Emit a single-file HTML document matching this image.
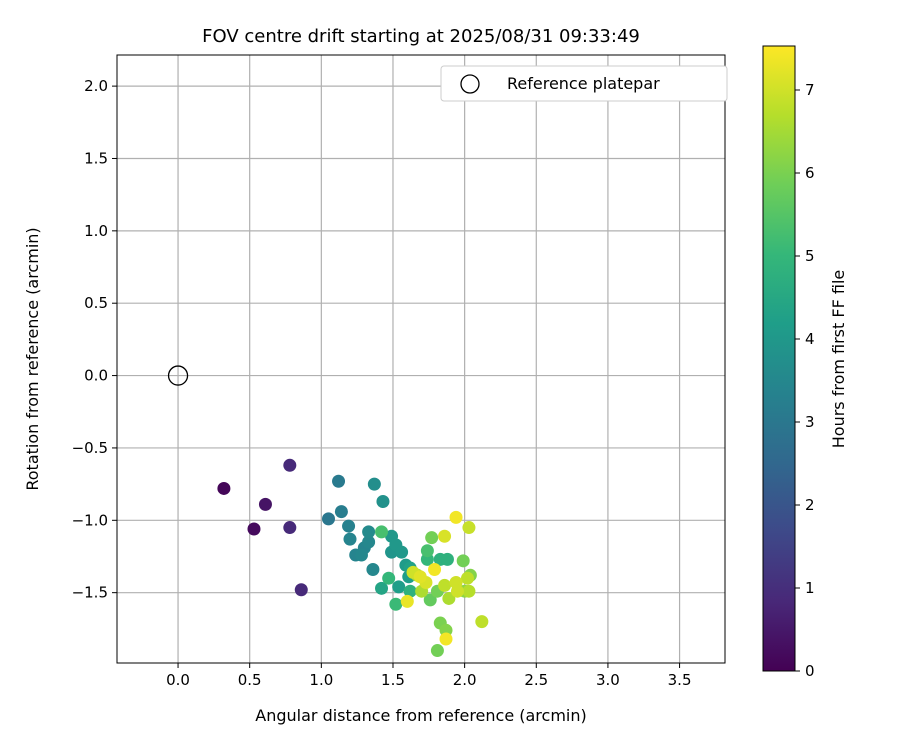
<!DOCTYPE html>
<html><head><meta charset="utf-8"><style>
body{margin:0;background:#fff;font-family:"Liberation Sans","DejaVu Sans",sans-serif}
</style></head><body>
<svg id="c" width="900" height="750" xmlns="http://www.w3.org/2000/svg" font-family="'DejaVu Sans','Liberation Sans',sans-serif">
<defs><linearGradient id="vir" x1="0" y1="1" x2="0" y2="0">
<stop offset="0" stop-color="#440154"/><stop offset="0.111" stop-color="#482878"/><stop offset="0.222" stop-color="#3e4989"/><stop offset="0.333" stop-color="#31688e"/><stop offset="0.444" stop-color="#26828e"/><stop offset="0.556" stop-color="#1f9e89"/><stop offset="0.667" stop-color="#35b779"/><stop offset="0.778" stop-color="#6ece58"/><stop offset="0.889" stop-color="#b5de2b"/><stop offset="1" stop-color="#fde725"/></linearGradient></defs>
<text x="421" y="42" text-anchor="middle" font-size="18">FOV centre drift starting at 2025/08/31 09:33:49</text>
<g id="grid"></g><g id="pts"></g>
<rect x="117" y="55" width="608" height="608" fill="none" stroke="#000" stroke-width="1"/>
<g id="ticks" font-size="15"></g>
<text x="421" y="721" text-anchor="middle" font-size="16">Angular distance from reference (arcmin)</text>
<text transform="translate(38,359) rotate(-90)" text-anchor="middle" font-size="16">Rotation from reference (arcmin)</text>
<g>
<rect x="441" y="66" width="286" height="35" fill="#fff" stroke="#ccc" rx="3"/>
<circle cx="470" cy="84" r="9" fill="none" stroke="#000" stroke-width="1.3"/>
<text x="507" y="89" font-size="16">Reference platepar</text></g>
<rect x="763" y="46" width="32" height="625" fill="url(#vir)" stroke="#000" stroke-width="1"/>
<g id="cb" font-size="15"></g>
<text transform="translate(844,359) rotate(-90)" text-anchor="middle" font-size="16">Hours from first FF file</text>
</svg>
<script>
const xs=[0.32,0.53,0.61,0.78,0.78,0.86,1.12,1.14,1.05,1.19,1.20,1.24,1.28,1.30,1.33,1.36,1.37,1.43,1.33,1.49,1.49,1.52,1.56,1.59,1.61,1.62,1.42,1.54,1.47,1.52,1.42,1.62,1.77,1.74,1.74,1.83,1.88,1.76,1.67,1.81,1.99,2.04,2.00,1.83,1.87,1.81,1.69,1.60,1.86,1.79,2.02,1.94,1.95,1.94,2.03,2.12,1.87,1.86,1.70,1.89,1.73,2.03,1.64];
const ys=[-0.78,-1.06,-0.89,-0.62,-1.05,-1.48,-0.73,-0.94,-0.99,-1.04,-1.13,-1.24,-1.24,-1.19,-1.15,-1.34,-0.75,-0.87,-1.08,-1.11,-1.22,-1.17,-1.22,-1.31,-1.39,-1.33,-1.47,-1.46,-1.40,-1.58,-1.08,-1.49,-1.12,-1.21,-1.27,-1.27,-1.27,-1.55,-1.38,-1.49,-1.28,-1.38,-1.49,-1.71,-1.76,-1.90,-1.39,-1.56,-1.11,-1.34,-1.40,-1.43,-1.49,-0.98,-1.05,-1.70,-1.82,-1.45,-1.49,-1.54,-1.43,-1.49,-1.36];
const hours=[0.1,0.2,0.4,0.9,0.9,0.9,3.1,3.2,3.0,3.3,3.4,3.4,3.5,3.4,3.5,3.5,3.7,3.8,3.6,4.0,3.9,4.0,4.0,4.1,4.2,4.3,4.4,4.2,5.0,5.1,5.3,4.8,5.9,5.3,5.0,4.8,4.8,5.7,6.5,5.9,5.9,6.1,6.2,6.0,6.1,5.9,7.2,7.3,7.1,7.4,6.8,7.0,7.0,7.4,6.9,6.8,7.4,6.8,6.6,6.6,7.1,6.7,7.0];
const xTicks=[0,0.5,1,1.5,2,2.5,3,3.5];
const yTicks=[-1.5,-1,-0.5,0,0.5,1,1.5,2];
const cTicks=[0,1,2,3,4,5,6,7];
const X0=117,X1=725,Y0=55,Y1=663,xmin=-0.426,xmax=3.817,ymin=-1.986,ymax=2.215,cmax=7.53;
const sx=v=>X0+(v-xmin)/(xmax-xmin)*(X1-X0);
const sy=v=>Y1-(v-ymin)/(ymax-ymin)*(Y1-Y0);
const cy=v=>671-v/cmax*625;
const V=[[68,1,84],[72,40,120],[62,73,137],[49,104,142],[38,130,142],[31,158,137],[53,183,121],[110,206,88],[181,222,43],[253,231,37]];
function col(h){let t=Math.max(0,Math.min(1,h/cmax))*(V.length-1),i=Math.min(V.length-2,Math.floor(t)),f=t-i;
return 'rgb('+V[i].map((c,k)=>Math.round(c+(V[i+1][k]-c)*f)).join(',')+')';}
const NS='http://www.w3.org/2000/svg';
function mk(t,a,p){const e=document.createElementNS(NS,t);for(const k in a)e.setAttribute(k,a[k]);p.appendChild(e);return e;}
const g=document.getElementById('grid'),tk=document.getElementById('ticks'),pts=document.getElementById('pts'),cb=document.getElementById('cb');
const fmt=v=>(v<0?'\u2212':'')+Math.abs(v).toFixed(1);
xTicks.forEach(v=>{const x=sx(v);
const l=mk('line',{x1:x,x2:x,y1:Y0,y2:Y1,stroke:'#b0b0b0','stroke-width':1.2},g);


mk('line',{x1:x,x2:x,y1:Y1,y2:Y1+5,stroke:'#000'},tk);
const t=mk('text',{x:x,y:Y1+22,'text-anchor':'middle'},tk);t.textContent=fmt(v);

});
yTicks.forEach(v=>{const y=sy(v);
const l=mk('line',{x1:X0,x2:X1,y1:y,y2:y,stroke:'#b0b0b0','stroke-width':1.2},g);


mk('line',{x1:X0-5,x2:X0,y1:y,y2:y,stroke:'#000'},tk);
const t=mk('text',{x:X0-9,y:y+5,'text-anchor':'end'},tk);t.textContent=fmt(v);

});
cTicks.forEach(v=>{const y=cy(v);
mk('line',{x1:795,x2:800,y1:y,y2:y,stroke:'#000'},cb);
const t=mk('text',{x:805,y:y+5},cb);t.textContent=v;

});
const ref=mk('circle',{cx:sx(0),cy:sy(0),r:9.5,fill:'none',stroke:'#000','stroke-width':1.3},pts);


const idx=hours.map((h,i)=>i).sort((a,b)=>hours[a]-hours[b]);
idx.forEach(i=>{const c=mk('circle',{cx:sx(xs[i]),cy:sy(ys[i]),r:6.5,fill:col(hours[i])},pts);

});
</script>
</body></html>
